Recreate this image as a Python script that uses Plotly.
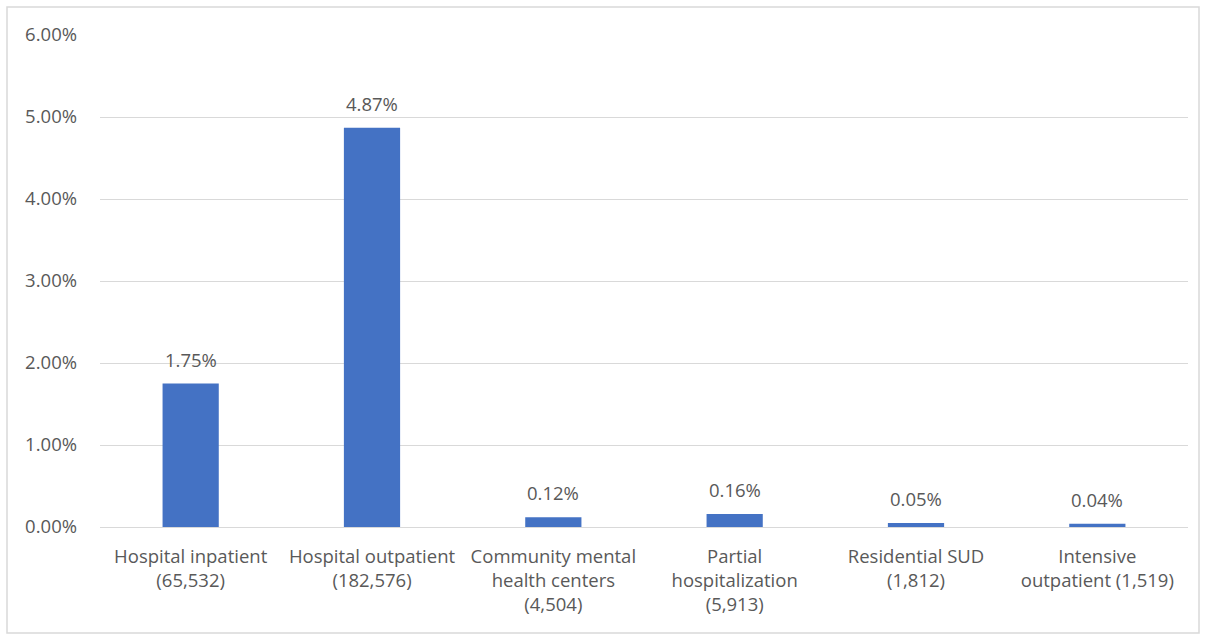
import plotly.graph_objects as go

categories = [
    "Hospital inpatient<br>(65,532)",
    "Hospital outpatient<br>(182,576)",
    "Community mental<br>health centers<br>(4,504)",
    "Partial<br>hospitalization<br>(5,913)",
    "Residential SUD<br>(1,812)",
    "Intensive<br>outpatient (1,519)",
]
values = [0.0175, 0.0487, 0.0012, 0.0016, 0.0005, 0.0004]
y_ticks = [0, 0.01, 0.02, 0.03, 0.04, 0.05, 0.06]

FONT = "Open Sans"
TXT = "#595959"
FS = 18.5

W, H = 1206, 637
L, T = 100, 35
PW, PH = 1088, 492

fig = go.Figure()
fig.add_trace(go.Bar(
    x=categories, y=values, marker_color="#4472C4", marker_line_width=0,
    width=0.31, hoverinfo="skip",
))
for c, v in zip(categories, values):
    fig.add_annotation(x=c, y=v, text=f"{v*100:.2f}%", showarrow=False,
                       yanchor="bottom", yshift=10,
                       font=dict(family=FONT, size=FS, color=TXT))

fig.update_layout(
    width=W, height=H,
    margin=dict(l=L, r=W - L - PW, t=T, b=H - T - PH, pad=0),
    plot_bgcolor="white", paper_bgcolor="white",
    showlegend=False,
    font=dict(family=FONT, size=FS, color=TXT),
)
fig.update_xaxes(showgrid=False, showline=False, ticks="", zeroline=False,
                 tickfont=dict(family=FONT, size=FS, color=TXT),
                 ticklabelstandoff=16)
fig.update_yaxes(range=[0, 0.06], tickvals=y_ticks, tickformat=".2%",
                 showgrid=True, gridcolor="#D9D9D9", gridwidth=1,
                 zeroline=True, zerolinecolor="#D9D9D9", zerolinewidth=1,
                 showline=False, ticks="", ticklabelstandoff=22,
                 tickfont=dict(family=FONT, size=FS, color=TXT))
# outer border
fig.add_shape(type="rect", xref="paper", yref="paper",
              x0=(7 - L) / PW, x1=(1199 - L) / PW,
              y0=(T + PH - 633) / PH, y1=(T + PH - 7) / PH,
              line=dict(color="#D9D9D9", width=1.5), fillcolor="rgba(0,0,0,0)",
              layer="below")

fig.write_html("out.html", config={"displayModeBar": False},
               post_script="document.body.style.margin='0';document.body.style.overflow='hidden';")
